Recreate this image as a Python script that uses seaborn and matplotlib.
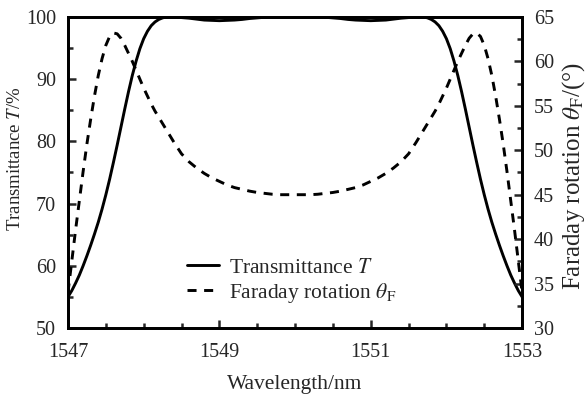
import numpy as np
import pandas as pd
import seaborn as sns
import matplotlib.pyplot as plt
from matplotlib.ticker import MultipleLocator

# wavelength (nm): finer steps on the steep edges
wavelength = [1547.00, 1547.05, 1547.10, 1547.15, 1547.20, 1547.25, 1547.30, 1547.35, 1547.40, 1547.45,
              1547.50, 1547.55, 1547.60, 1547.65, 1547.70, 1547.75, 1547.80, 1547.85, 1547.90, 1547.95,
              1548.00, 1548.05, 1548.10, 1548.15, 1548.20, 1548.25, 1548.30, 1548.35, 1548.40,
              1548.5, 1548.6, 1548.7, 1548.8, 1548.9, 1549.0, 1549.1, 1549.2, 1549.3, 1549.4,
              1549.5, 1549.6, 1549.7, 1549.8, 1549.9, 1550.0, 1550.1, 1550.2, 1550.3, 1550.4,
              1550.5, 1550.6, 1550.7, 1550.8, 1550.9, 1551.0, 1551.1, 1551.2, 1551.3, 1551.4, 1551.5,
              1551.60, 1551.65, 1551.70, 1551.75, 1551.80, 1551.85, 1551.90, 1551.95, 1552.00, 1552.05,
              1552.10, 1552.15, 1552.20, 1552.25, 1552.30, 1552.35, 1552.40, 1552.45, 1552.50, 1552.55,
              1552.60, 1552.65, 1552.70, 1552.75, 1552.80, 1552.85, 1552.90, 1552.95, 1553.00]

# transmittance T (%)
transmittance = [55.0, 56.0, 57.2, 58.5, 60.0, 61.6, 63.3, 65.1, 67.0, 69.1,
                 71.4, 73.9, 76.6, 79.4, 82.3, 85.2, 88.0, 90.6, 92.9, 94.9,
                 96.5, 97.7, 98.6, 99.2, 99.6, 99.85, 100.0, 100.0, 100.0,
                 99.9, 99.8, 99.65, 99.5, 99.45, 99.4, 99.45, 99.5, 99.6, 99.75,
                 99.85, 99.95, 100.0, 100.0, 100.0, 100.0, 100.0, 100.0, 100.0, 99.95,
                 99.85, 99.75, 99.6, 99.5, 99.45, 99.4, 99.45, 99.5, 99.65, 99.8, 99.9,
                 100.0, 100.0, 100.0, 99.85, 99.6, 99.2, 98.6, 97.7, 96.5, 94.9,
                 92.9, 90.6, 88.0, 85.2, 82.3, 79.4, 76.6, 73.9, 71.4, 69.1,
                 67.0, 65.1, 63.3, 61.6, 60.0, 58.5, 57.2, 56.0, 55.0]

# Faraday rotation theta_F (deg)
faraday = [34.0, 37.5, 41.0, 44.3, 47.6, 50.7, 53.5, 56.1, 58.4, 60.3,
           61.8, 62.8, 63.2, 63.1, 62.6, 61.8, 60.9, 60.0, 59.0, 58.0,
           57.0, 56.1, 55.2, 54.4, 53.7, 53.0, 52.3, 51.6, 50.9,
           49.6, 48.7, 48.0, 47.4, 46.9, 46.5, 46.1, 45.8, 45.6, 45.4,
           45.25, 45.15, 45.05, 45.0, 45.0, 45.0, 45.0, 45.0, 45.05, 45.15,
           45.25, 45.4, 45.6, 45.8, 46.1, 46.5, 46.9, 47.4, 48.0, 48.7, 49.6,
           50.9, 51.6, 52.3, 53.0, 53.7, 54.4, 55.2, 56.1, 57.0, 58.0,
           59.0, 60.0, 60.9, 61.8, 62.6, 63.1, 63.2, 62.8, 61.8, 60.3,
           58.4, 56.1, 53.5, 50.7, 47.6, 44.3, 41.0, 37.5, 34.0]

df = pd.DataFrame({'wl': wavelength, 'T': transmittance, 'theta': faraday})

sns.set_style('ticks')
plt.rcParams['font.family'] = ['Liberation Serif', 'DejaVu Serif']
plt.rcParams['mathtext.fontset'] = 'stix'
plt.rcParams['xtick.direction'] = 'in'
plt.rcParams['ytick.direction'] = 'in'

fig = plt.figure(figsize=(5.86, 3.94), dpi=100)
ax = fig.add_axes([0.116, 0.1675, 0.775, 0.7895])
ax2 = ax.twinx()

sns.lineplot(data=df, x='wl', y='T', ax=ax, color='black', lw=2.1,
             label=r'Transmittance $\mathit{T}$', legend=False)
sns.lineplot(data=df, x='wl', y='theta', ax=ax2, color='black', lw=2.1,
             linestyle=(0, (3.1, 2.6)), label=r'Faraday rotation $\theta_{\mathrm{F}}$', legend=False)

ax.set_xlim(1547, 1553)
ax.set_ylim(50, 100)
ax2.set_ylim(30, 65)
ax.set_xticks([1547, 1549, 1551, 1553])
ax.xaxis.set_minor_locator(MultipleLocator(0.5))
ax.set_yticks([50, 60, 70, 80, 90, 100])
ax.yaxis.set_minor_locator(MultipleLocator(5))
ax2.set_yticks([30, 35, 40, 45, 50, 55, 60, 65])
ax2.yaxis.set_minor_locator(MultipleLocator(2.5))

for a in (ax, ax2):
    for s in a.spines.values():
        s.set_visible(True)
        s.set_linewidth(2.0)
        s.set_color('black')
    a.tick_params(which='major', length=5.5, width=1.8, labelsize=14.5, pad=8.5)
    a.tick_params(which='minor', length=3.5, width=1.8)
ax.tick_params(axis='x', which='both', top=False, pad=10.5)

ax.set_xlabel('Wavelength/nm', fontsize=15.5)
ax.xaxis.set_label_coords(0.5, -0.152)
ax.set_ylabel(r'Transmittance $\mathit{T}$/%', fontsize=13.5)
ax.yaxis.set_label_coords(-0.097, 0.543)
ax2.set_ylabel(r'Faraday rotation $\theta_{\mathrm{F}}$/(°)', fontsize=18)
ax2.yaxis.set_label_coords(1.084, 0.49)

h1, l1 = ax.get_legend_handles_labels()
h2, l2 = ax2.get_legend_handles_labels()
ax2.legend(h1 + h2, l1 + l2, loc='upper left', bbox_to_anchor=(0.262, 0.226), frameon=False,
           fontsize=15.5, handlelength=1.5, handletextpad=0.45, labelspacing=0.15,
           borderpad=0, borderaxespad=0)

fig.savefig('out.png', dpi=100)
